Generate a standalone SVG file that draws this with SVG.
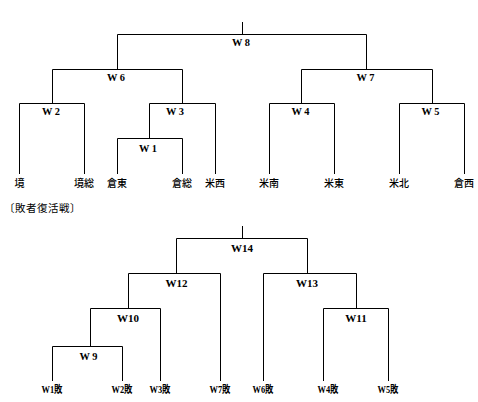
<svg xmlns="http://www.w3.org/2000/svg" width="478" height="402" viewBox="0 0 478 402">
<style>
.ln{fill:none;stroke:#000;stroke-width:1}
.lbl{font-family:"Liberation Serif","Noto Sans CJK JP",serif;font-size:11px;font-weight:bold;text-anchor:middle;fill:#000}
.tm{font-family:"Noto Sans CJK JP",sans-serif;font-size:10px;font-weight:500;text-anchor:middle;fill:#000}
.ls{font-family:"Liberation Serif","Noto Sans CJK JP",serif;font-size:10px;font-weight:bold;text-anchor:middle;fill:#000}
.hd{font-family:"Noto Sans CJK JP",sans-serif;font-size:10.5px;letter-spacing:0.5px;fill:#000}
</style>
<rect width="478" height="402" fill="#fff"/>
<g id="connectors">
<path class="ln" d="M242.5,22 V34.5"/>
<path class="ln" d="M117.5,69 V34.5 H366.5 V69"/>
<path class="ln" d="M52.5,103 V69.5 H182.5 V103"/>
<path class="ln" d="M301.5,103 V69.5 H432.5 V103"/>
<path class="ln" d="M19.5,174 V103.5 H84.5 V174"/>
<path class="ln" d="M149.5,138 V103.5 H215.5 V174"/>
<path class="ln" d="M117.5,174 V138.5 H182.5 V174"/>
<path class="ln" d="M269.5,174 V103.5 H334.5 V174"/>
<path class="ln" d="M399.5,174 V103.5 H464.5 V174"/>
<path class="ln" d="M242.5,226 V238.5"/>
<path class="ln" d="M176.5,273 V238.5 H307.5 V273"/>
<path class="ln" d="M128.5,308 V273.5 H220.5 V381"/>
<path class="ln" d="M263.5,381 V273.5 H356.5 V308"/>
<path class="ln" d="M90.5,346 V308.5 H160.5 V381"/>
<path class="ln" d="M323.5,381 V308.5 H388.5 V381"/>
<path class="ln" d="M52.5,381 V346.5 H122.5 V381"/>
</g>
<g id="W8"><text class="lbl" x="241" y="46" textLength="18" lengthAdjust="spacingAndGlyphs">W 8</text></g>
<g id="W6"><text class="lbl" x="116" y="81" textLength="18" lengthAdjust="spacingAndGlyphs">W 6</text></g>
<g id="W7"><text class="lbl" x="365.5" y="81" textLength="18" lengthAdjust="spacingAndGlyphs">W 7</text></g>
<g id="W2"><text class="lbl" x="51" y="114.5" textLength="18" lengthAdjust="spacingAndGlyphs">W 2</text></g>
<g id="W3"><text class="lbl" x="175" y="114.5" textLength="18" lengthAdjust="spacingAndGlyphs">W 3</text></g>
<g id="W1"><text class="lbl" x="148" y="152" textLength="18" lengthAdjust="spacingAndGlyphs">W 1</text></g>
<g id="W4"><text class="lbl" x="300.5" y="114.5" textLength="18" lengthAdjust="spacingAndGlyphs">W 4</text></g>
<g id="W5"><text class="lbl" x="430.5" y="114.5" textLength="18" lengthAdjust="spacingAndGlyphs">W 5</text></g>
<g id="t-sakai"><text class="tm" x="19.5" y="186.5">境</text></g>
<g id="t-sakaiso"><text class="tm" x="84" y="186.5">境総</text></g>
<g id="t-kurahigashi"><text class="tm" x="117" y="186.5">倉東</text></g>
<g id="t-kuraso"><text class="tm" x="182" y="186.5">倉総</text></g>
<g id="t-yonanishi"><text class="tm" x="215" y="186.5">米西</text></g>
<g id="t-yonaminami"><text class="tm" x="269" y="186.5">米南</text></g>
<g id="t-yonahigashi"><text class="tm" x="334" y="186.5">米東</text></g>
<g id="t-yonakita"><text class="tm" x="399" y="186.5">米北</text></g>
<g id="t-kuranishi"><text class="tm" x="464" y="186.5">倉西</text></g>
<g id="heading"><text class="hd" x="4" y="211.5">〔敗者復活戦〕</text></g>
<g id="W14"><text class="lbl" x="242" y="252">W14</text></g>
<g id="W12"><text class="lbl" x="176.5" y="287">W12</text></g>
<g id="W13"><text class="lbl" x="307" y="287">W13</text></g>
<g id="W10"><text class="lbl" x="128" y="322">W10</text></g>
<g id="W11"><text class="lbl" x="356" y="322">W11</text></g>
<g id="W9"><text class="lbl" x="88.5" y="359.5" textLength="18" lengthAdjust="spacingAndGlyphs">W 9</text></g>
<g id="L1"><text class="ls" x="52" y="393" textLength="21" lengthAdjust="spacingAndGlyphs">W1敗</text></g>
<g id="L2"><text class="ls" x="122" y="393" textLength="21" lengthAdjust="spacingAndGlyphs">W2敗</text></g>
<g id="L3"><text class="ls" x="160" y="393" textLength="21" lengthAdjust="spacingAndGlyphs">W3敗</text></g>
<g id="L7"><text class="ls" x="220" y="393" textLength="21" lengthAdjust="spacingAndGlyphs">W7敗</text></g>
<g id="L6"><text class="ls" x="263" y="393" textLength="21" lengthAdjust="spacingAndGlyphs">W6敗</text></g>
<g id="L4"><text class="ls" x="328" y="393" textLength="21" lengthAdjust="spacingAndGlyphs">W4敗</text></g>
<g id="L5"><text class="ls" x="388" y="393" textLength="21" lengthAdjust="spacingAndGlyphs">W5敗</text></g>
</svg>
